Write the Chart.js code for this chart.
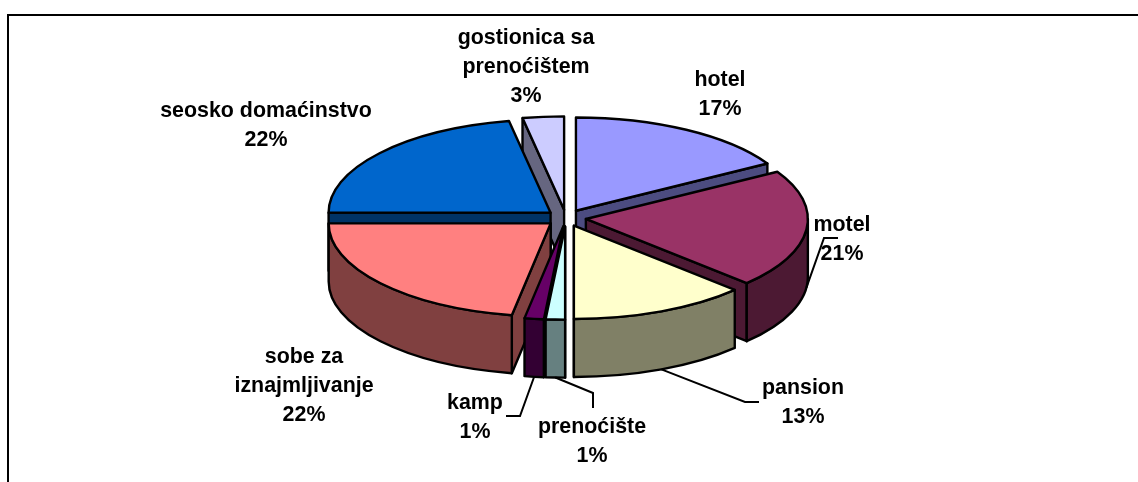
<!DOCTYPE html>
<html>
<head>
<meta charset="utf-8">
<title>Pie</title>
<script src="https://cdn.jsdelivr.net/npm/chart.js@4/dist/chart.umd.min.js"></script>
<style>
  html, body { margin: 0; padding: 0; background: #fff; overflow: hidden; }
  #wrap { position: relative; width: 1138px; height: 482px; overflow: hidden; }
  #frame { position: absolute; left: 7px; top: 14px; width: 1140px; height: 480px; border: 2px solid #000; box-sizing: border-box; }
  #grafik { position: absolute; left: 0; top: 0; }
</style>
</head>
<body>
<div id="wrap">
  <div id="frame"></div>
  <canvas id="grafik" width="1138" height="482"></canvas>
</div>
<script>
const categories = ['hotel', 'motel', 'pansion', 'prenoćište', 'kamp', 'sobe za iznajmljivanje', 'seosko domaćinstvo', 'gostionica sa prenoćištem'];
const values = [16.55, 20.55, 12.9, 1.4, 1.4, 22.2, 22, 3];
const topColors = ['#9999FF', '#993366', '#FFFFCC', '#CCFFFF', '#660066', '#FF8080', '#0066CC', '#CCCCFF'];
const sideColors = ['#4C4C80', '#4C1933', '#808066', '#668080', '#330033', '#804040', '#003366', '#666680'];

// label lines + center point of each label block, first line baseline
const labelLines = [
  ['hotel'], ['motel'], ['pansion'], ['prenoćište'], ['kamp'],
  ['sobe za', 'iznajmljivanje'], ['seosko domaćinstvo'], ['gostionica sa', 'prenoćištem']
];
const labelPos = [[720, 80], [842, 225], [803, 388], [592, 427], [475, 403], [304, 357], [266, 111], [526, 38]];
// elbow of the leader lines, only for the labels that have one
const leaders = { 1: [[838, 238], [824, 238]], 2: [[759, 402], [745, 402]], 3: [[593, 408], [593, 393]], 4: [[506, 416], [520, 416]] };

const yRatio = 0.42;
const depth = 58;
const explode = 20;
const pieRadius = 222;

function sliceGeom(arc) {
  const p = arc.getProps(['x', 'y', 'startAngle', 'endAngle', 'outerRadius'], true);
  const mid = (p.startAngle + p.endAngle) / 2;
  return {
    a: p.startAngle, b: p.endAngle, r: p.outerRadius, mid: mid,
    x: p.x + Math.cos(mid) * explode,
    y: p.y + Math.sin(mid) * explode * yRatio
  };
}

function paint(ctx, fill) {
  ctx.fillStyle = fill;
  ctx.fill();
  ctx.stroke();
}

function sidePoint(g, ang, dy) {
  return [g.x + Math.cos(ang) * g.r, g.y + Math.sin(ang) * g.r * yRatio + dy];
}

function cutFace(ctx, g, ang, fill) {
  const p = sidePoint(g, ang, 0);
  ctx.beginPath();
  ctx.moveTo(g.x, g.y);
  ctx.lineTo(p[0], p[1]);
  ctx.lineTo(p[0], p[1] + depth);
  ctx.lineTo(g.x, g.y + depth);
  ctx.closePath();
  paint(ctx, fill);
}

const pie3d = {
  id: 'pie3d',
  beforeDatasetDraw(chart) {
    const ctx = chart.ctx;
    const arcs = chart.getDatasetMeta(0).data;
    const order = arcs.map((arc, i) => ({ g: sliceGeom(arc), i: i }))
      .sort((s1, s2) => Math.sin(s1.g.mid) - Math.sin(s2.g.mid));

    ctx.save();
    ctx.lineWidth = 2.4;
    ctx.strokeStyle = '#000';
    ctx.lineJoin = 'round';
    order.forEach(s => {
      const g = s.g;
      // cut faces, only those turned to the viewer
      if (Math.sin(g.a - Math.PI / 2) > 0) cutFace(ctx, g, g.a, sideColors[s.i]);
      if (Math.sin(g.b + Math.PI / 2) > 0) cutFace(ctx, g, g.b, sideColors[s.i]);

      // outer wall
      const w0 = Math.max(g.a, 0);
      const w1 = Math.min(g.b, Math.PI);
      if (w1 > w0) {
        ctx.beginPath();
        ctx.ellipse(g.x, g.y, g.r, g.r * yRatio, 0, w0, w1);
        ctx.ellipse(g.x, g.y + depth, g.r, g.r * yRatio, 0, w1, w0, true);
        ctx.closePath();
        paint(ctx, sideColors[s.i]);
      }

      // top
      ctx.beginPath();
      ctx.moveTo(g.x, g.y);
      ctx.ellipse(g.x, g.y, g.r, g.r * yRatio, 0, g.a, g.b);
      ctx.closePath();
      paint(ctx, topColors[s.i]);
    });
    ctx.restore();
    return false;
  },
  afterDatasetsDraw(chart) {
    const ctx = chart.ctx;
    const arcs = chart.getDatasetMeta(0).data;
    ctx.save();
    ctx.strokeStyle = '#000';
    ctx.lineWidth = 2;
    Object.keys(leaders).forEach(k => {
      const g = sliceGeom(arcs[k]);
      const anchor = sidePoint(g, g.mid, depth);
      ctx.beginPath();
      ctx.moveTo(leaders[k][0][0], leaders[k][0][1]);
      ctx.lineTo(leaders[k][1][0], leaders[k][1][1]);
      ctx.lineTo(anchor[0], anchor[1]);
      ctx.stroke();
    });

    ctx.fillStyle = '#000';
    ctx.font = 'bold 21.4px "Liberation Sans", Arial, sans-serif';
    ctx.textAlign = 'center';
    ctx.textBaseline = 'middle';
    const total = values.reduce((s, v) => s + v, 0);
    labelLines.forEach((lines, i) => {
      const rows = lines.concat([Math.round(values[i] / total * 100) + '%']);
      rows.forEach((row, n) => {
        ctx.fillText(row, labelPos[i][0], labelPos[i][1] + n * 29);
      });
    });
    ctx.restore();
  }
};

new Chart(document.getElementById('grafik'), {
  type: 'pie',
  data: {
    labels: categories,
    datasets: [{
      data: values,
      backgroundColor: topColors,
      borderWidth: 0,
      radius: pieRadius,
      clip: false
    }]
  },
  options: {
    responsive: false,
    animation: false,
    layout: { autoPadding: false, padding: { top: 0, left: 0, right: 6, bottom: 46 } },
    plugins: { legend: { display: false }, tooltip: { enabled: false } }
  },
  plugins: [pie3d]
});
</script>
</body>
</html>
